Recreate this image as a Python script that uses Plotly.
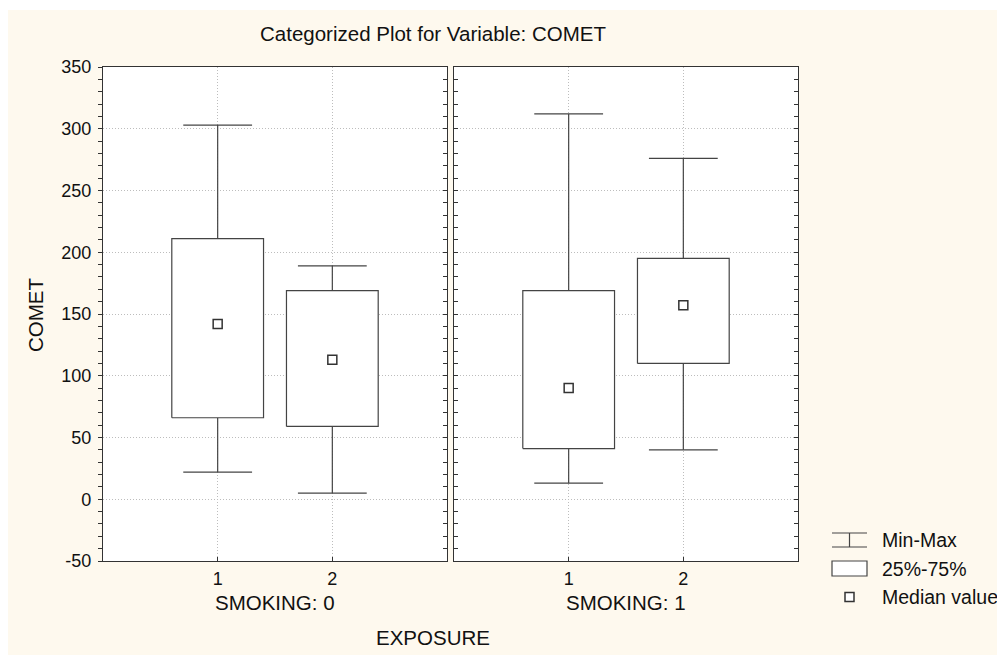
import plotly.graph_objects as go

# ---- data ----
smoking_groups = ["SMOKING: 0", "SMOKING: 1"]
exposure = [1, 2]
mins = [[22, 5], [13, 40]]
q1 = [[66, 59], [41, 110]]
medians = [[142, 113], [90, 157]]
q3 = [[211, 169], [169, 195]]
maxs = [[303, 189], [312, 276]]
y_ticks = [-50, 0, 50, 100, 150, 200, 250, 300, 350]
y_tick_labels = ["-50", "0", "50", "100", "150", "200", "250", "300", "350"]

# ---- layout geometry (pixels, figure sits at 8px page offset) ----
OFF = 8
W_PX, H_PX = 997, 647
ML = 103 - OFF
MT = 67 - OFF
MR = W_PX - (798 - OFF)
MB = H_PX - (561 - OFF)
PW = W_PX - ML - MR
PH = H_PX - MT - MB


def px(x):
    return (x - OFF - ML) / PW


def py(y):
    return (MT + PH - (y - OFF)) / PH


CREAM = "#FEF9EE"
LINE = "#444444"
FRAME = "#333333"
GRID = "#bdbdbd"
FONT = "Liberation Sans, Arial, sans-serif"
BOX_HALF = 0.4
CAP_HALF = 0.3

fig = go.Figure()
xaxes = ["x", "x2"]
yaxes = ["y", "y2"]

for p in range(len(smoking_groups)):
    for c, xc in enumerate(exposure):
        fig.add_trace(go.Scatter(
            x=[xc, xc, None, xc - CAP_HALF, xc + CAP_HALF, None,
               xc, xc, None, xc - CAP_HALF, xc + CAP_HALF],
            y=[q3[p][c], maxs[p][c], None, maxs[p][c], maxs[p][c], None,
               q1[p][c], mins[p][c], None, mins[p][c], mins[p][c]],
            mode="lines", line=dict(color=LINE, width=1.2),
            xaxis=xaxes[p], yaxis=yaxes[p], showlegend=False, hoverinfo="skip"))
        fig.add_trace(go.Scatter(
            x=[xc - BOX_HALF, xc + BOX_HALF, xc + BOX_HALF, xc - BOX_HALF, xc - BOX_HALF],
            y=[q1[p][c], q1[p][c], q3[p][c], q3[p][c], q1[p][c]],
            mode="lines", fill="toself", fillcolor="white",
            line=dict(color=LINE, width=1.2),
            xaxis=xaxes[p], yaxis=yaxes[p], showlegend=False, hoverinfo="skip"))
        fig.add_trace(go.Scatter(
            x=[xc], y=[medians[p][c]], mode="markers",
            marker=dict(symbol="square", size=9, color="white",
                        line=dict(color="#333333", width=1.5)),
            xaxis=xaxes[p], yaxis=yaxes[p], showlegend=False, hoverinfo="skip"))

fig.add_trace(go.Scatter(x=[None], y=[None], xaxis="x", yaxis="y3", showlegend=False, hoverinfo="skip"))
fig.add_trace(go.Scatter(x=[None], y=[None], xaxis="x2", yaxis="y4", showlegend=False, hoverinfo="skip"))

d1 = [0, px(447)]
d2 = [px(454), 1]

xcommon = dict(range=[0, 3], tickvals=exposure, ticktext=[str(v) for v in exposure],
               showgrid=True, gridcolor=GRID, griddash="1px,2px", gridwidth=1,
               showline=True, linecolor=FRAME, linewidth=1.3, mirror=True,
               ticks="inside", ticklen=4, tickcolor=FRAME, ticklabelstandoff=1,
               tickfont=dict(family=FONT, size=18, color="#111111"),
               zeroline=False, fixedrange=True)

ycommon = dict(range=[-50, 350], tickvals=y_ticks, ticktext=y_tick_labels,
               showline=True, linecolor=FRAME, linewidth=1.3,
               ticklen=4, tickcolor=FRAME, zeroline=False, fixedrange=True,
               tickfont=dict(family=FONT, size=18, color="#111111"))

minor_in = dict(dtick=10, ticks="inside", ticklen=4, tickcolor=FRAME, showgrid=False)

fig.update_layout(
    width=W_PX, height=H_PX,
    margin=dict(l=ML, r=MR, t=MT, b=MB, pad=0),
    paper_bgcolor=CREAM, plot_bgcolor="white",
    xaxis=dict(domain=d1, anchor="y", **xcommon),
    xaxis2=dict(domain=d2, anchor="y2", **xcommon),
    yaxis=dict(anchor="x", side="left", ticks="outside", showticklabels=True,
               showgrid=True, gridcolor=GRID, griddash="1px,2px", gridwidth=1,
               minor=dict(dtick=10, ticks="outside", ticklen=4, tickcolor=FRAME, showgrid=False),
               ticklabelstandoff=3, **ycommon),
    yaxis2=dict(anchor="x2", side="left", ticks="inside", showticklabels=False,
                showgrid=True, gridcolor=GRID, griddash="1px,2px", gridwidth=1,
                minor=minor_in, **ycommon),
    yaxis3=dict(anchor="x", overlaying="y", side="right", ticks="inside", showticklabels=False,
                showgrid=False, minor=minor_in, **ycommon),
    yaxis4=dict(anchor="x2", overlaying="y2", side="right", ticks="inside", showticklabels=False,
                showgrid=False, minor=minor_in, **ycommon),
    showlegend=False,
)

shapes = []
shapes.append(dict(type="rect", xref="paper", yref="paper", x0=px(0), x1=px(1010), y0=py(10), y1=py(OFF),
                   fillcolor="white", line=dict(width=0), layer="below"))
lg = dict(color=LINE, width=1.2)
shapes.append(dict(type="line", xref="paper", yref="paper", x0=px(832), x1=px(867), y0=py(533), y1=py(533), line=lg))
shapes.append(dict(type="line", xref="paper", yref="paper", x0=px(832), x1=px(867), y0=py(547), y1=py(547), line=lg))
shapes.append(dict(type="line", xref="paper", yref="paper", x0=px(849.5), x1=px(849.5), y0=py(533), y1=py(547), line=lg))
shapes.append(dict(type="rect", xref="paper", yref="paper", x0=px(832), x1=px(867), y0=py(576), y1=py(561),
                   fillcolor="white", line=lg))
shapes.append(dict(type="rect", xref="paper", yref="paper", x0=px(845), x1=px(854), y0=py(601.5), y1=py(592.5),
                   fillcolor="white", line=dict(color="#333333", width=1.5)))
fig.update_layout(shapes=shapes)

tf = dict(family=FONT, size=20.5, color="#111111")
lf = dict(family=FONT, size=19.5, color="#111111")
ann = [
    dict(text="Categorized Plot for Variable: COMET", x=px(432.5), y=py(34)),
    dict(text="COMET", x=px(35), y=py(315), textangle=-90),
    dict(text=smoking_groups[0], x=px(275), y=py(602)),
    dict(text=smoking_groups[1], x=px(626), y=py(602)),
    dict(text="EXPOSURE", x=px(432.5), y=py(637)),
]
for a in ann:
    fig.add_annotation(xref="paper", yref="paper", showarrow=False, xanchor="center",
                       yanchor="middle", font=tf, **a)
for txt, yy in [("Min-Max", 540), ("25%-75%", 569), ("Median value", 597)]:
    fig.add_annotation(xref="paper", yref="paper", showarrow=False, xanchor="left",
                       yanchor="middle", font=lf, text=txt, x=px(880), y=py(yy))

fig.write_html("out.html")
